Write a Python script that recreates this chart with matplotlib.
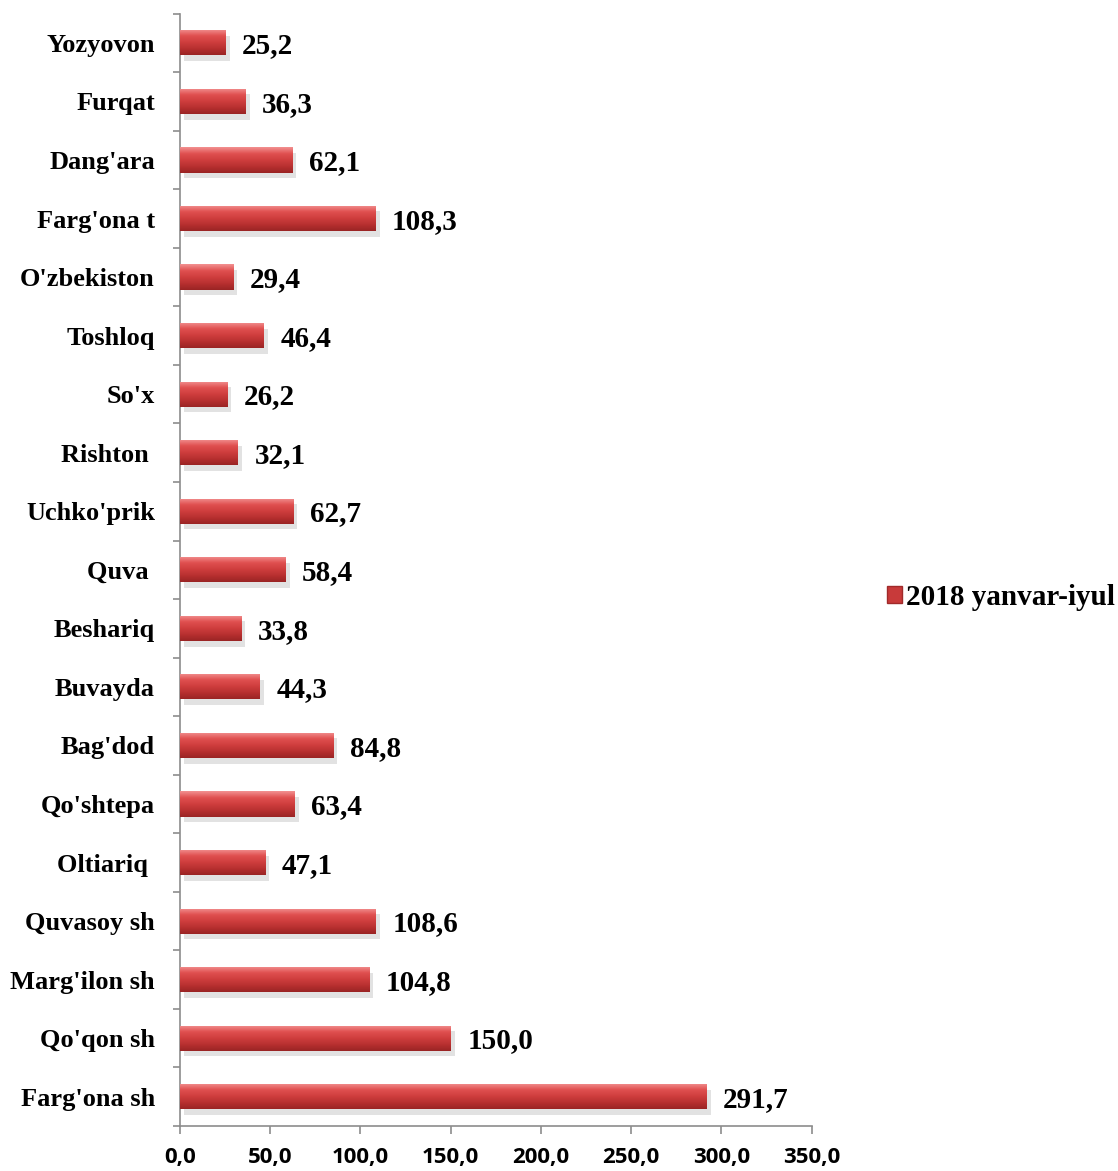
import numpy as np
import matplotlib
matplotlib.use("Agg")
import matplotlib.pyplot as plt
import matplotlib.patheffects as pe
from matplotlib.colors import LinearSegmentedColormap
from matplotlib.patches import Patch

# data, bottom to top as drawn
districts = ["Farg'ona sh", "Qo'qon sh", "Marg'ilon sh", "Quvasoy sh", "Oltiariq ",
             "Qo'shtepa", "Bag'dod", "Buvayda", "Beshariq", "Quva ", "Uchko'prik",
             "Rishton ", "So'x", "Toshloq", "O'zbekiston", "Farg'ona t", "Dang'ara",
             "Furqat", "Yozyovon"]
values = [291.7, 150.0, 104.8, 108.6, 47.1, 63.4, 84.8, 44.3, 33.8, 58.4, 62.7,
          32.1, 26.2, 46.4, 29.4, 108.3, 62.1, 36.3, 25.2]
series_name = "2018 yanvar-iyul"
x_ticks = [0, 50, 100, 150, 200, 250, 300, 350]

serif = "Liberation Serif"
axis_grey = "#8c8c8c"

fig = plt.figure(figsize=(11.18, 11.71), dpi=100)
ax = fig.add_axes([0.161, 0.0384, 0.565, 0.95])

ypos = np.arange(len(districts))
bars = ax.barh(ypos, values, height=0.43, color="#c83a3a", zorder=2,
               path_effects=[pe.SimplePatchShadow(offset=(3, -4), shadow_rgbFace="#c0c0c0", alpha=0.45),
                             pe.Normal()])

# vertical red gradient inside each bar
bar_cmap = LinearSegmentedColormap.from_list("bar", ["#9a2424", "#b83030", "#cf3e3e", "#e05050", "#f29090"])
grad = np.linspace(0, 1, 64).reshape(-1, 1)
for rect in bars:
    x0, y0 = rect.get_xy()
    im = ax.imshow(grad, cmap=bar_cmap, extent=[x0, x0 + rect.get_width(), y0, y0 + rect.get_height()],
                   aspect="auto", origin="lower", zorder=3, interpolation="bilinear")
    im.set_clip_path(rect)

for y, v in zip(ypos, values):
    ax.annotate(f"{v:.1f}".replace(".", ","), (v, y), xytext=(12, -2), textcoords="offset points",
                ha="left", va="center", fontfamily=serif, fontweight="bold", fontsize=21, color="black")

ax.set_xlim(0, 350)
ax.set_ylim(-0.5, len(districts) - 0.5)

ax.set_xticks(x_ticks)
ax.set_xticklabels([f"{t:.1f}".replace(".", ",") for t in x_ticks],
                   fontfamily="Open Sans", fontweight="bold", fontsize=16)
ax.tick_params(axis="x", direction="out", length=6, width=1.2, color=axis_grey, pad=9)

# category labels at bar centres, tick marks between categories
ax.set_yticks(ypos)
ax.set_yticklabels(districts, fontfamily=serif, fontweight="bold", fontsize=19)
ax.tick_params(axis="y", which="major", length=0, pad=18)
ax.set_yticks(np.arange(-0.5, len(districts)), minor=True)
ax.tick_params(axis="y", which="minor", direction="out", length=5, width=1.2, color=axis_grey)

for side in ["top", "right"]:
    ax.spines[side].set_visible(False)
for side in ["left", "bottom"]:
    ax.spines[side].set_color(axis_grey)
    ax.spines[side].set_linewidth(1.2)

handle = Patch(facecolor="#c83a3a", edgecolor="#a02a2a")
fig.legend([handle], [series_name], loc="center left", bbox_to_anchor=(0.77, 0.49),
           frameon=False, prop={"family": serif, "weight": "bold", "size": 21},
           handlelength=0.5, handleheight=0.5, handletextpad=0.15)

fig.savefig("out.png", dpi=100)
